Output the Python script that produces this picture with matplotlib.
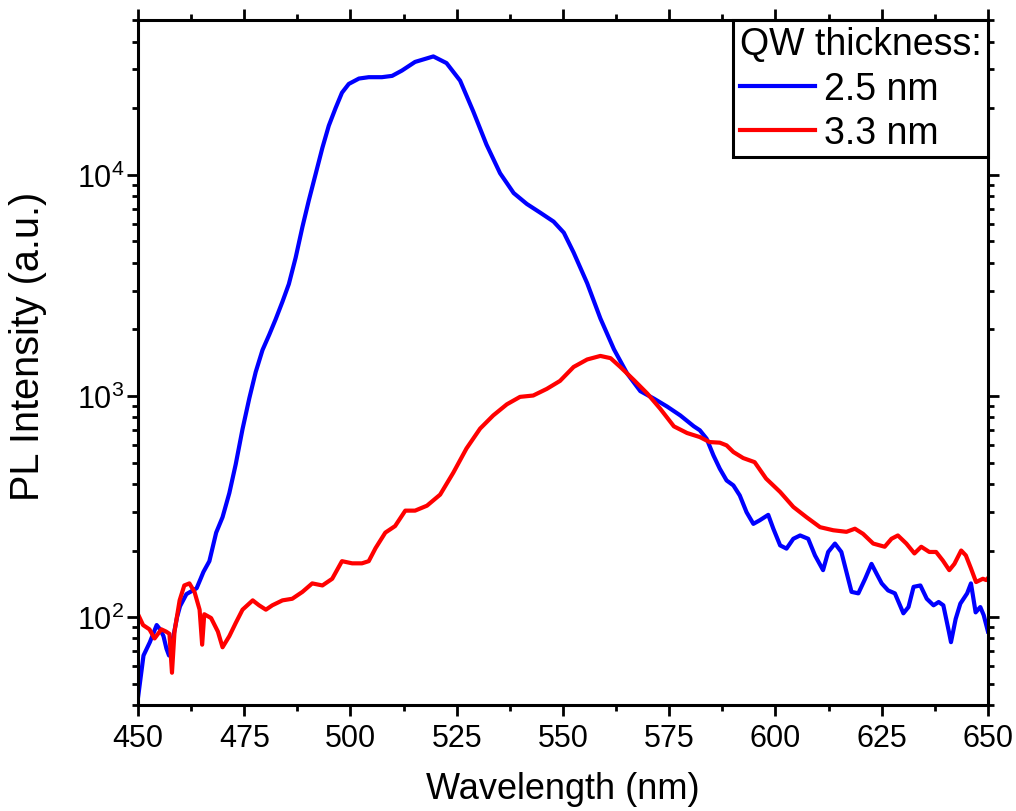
import matplotlib
matplotlib.use("Agg")
import matplotlib.pyplot as plt
from matplotlib.ticker import LogLocator, MultipleLocator, NullFormatter

plt.rcParams['font.family'] = ['Liberation Sans', 'DejaVu Sans']
plt.rcParams['mathtext.fontset'] = 'custom'
plt.rcParams['mathtext.rm'] = 'Liberation Sans'
plt.rcParams['mathtext.it'] = 'Liberation Sans:italic'

# ---- data ----
wl_25 = [450, 451.3, 452.8, 454.4, 455.2, 456, 456.7, 457.3, 458.5, 459.2, 459.9,
         461.4, 463.8, 464.8, 465.4, 466.8, 468.4, 469.9, 471.5, 473, 474.6, 476.2,
         477.7, 479.3, 480.9, 482.4, 484, 485.5, 487.1, 488.7, 490.2, 491.8, 493.4,
         494.9, 496.5, 498, 499.6, 502, 504.3, 507.4, 509.8, 512.1, 515.2, 517.6,
         519.5, 522.6, 525.8, 528.9, 532, 535.2, 538.4, 541.5, 544.7, 547.8, 550.2,
         552.5, 555.7, 558.8, 562, 565.1, 568.2, 571.4, 574.5, 577.6, 580.8, 582.2,
         583.8, 585.4, 586.9, 588.5, 590.1, 591.6, 593.2, 594.8, 596.3, 598.3, 599.5,
         601.1, 602.6, 604.2, 605.8, 607.7, 609.3, 611.2, 612.4, 614, 615.5, 616.7,
         617.9, 619.5, 621.1, 622.6, 623.8, 625, 626.5, 628.1, 629.3, 630.1, 631.3,
         632.5, 634.1, 635.6, 637.2, 638.4, 639.5, 640.8, 641.3, 642.4, 643.5, 645.1,
         646, 647.1, 648.2, 649, 650]
int_25 = [43, 67, 77, 92, 88, 82, 72, 67, 85, 100, 112,
          127, 135, 150, 160, 179, 241, 283, 364, 491, 708, 977,
          1283, 1614, 1896, 2225, 2672, 3209, 4224, 5825, 7670, 10090, 13280,
          16700, 20070, 23550, 25800, 27290, 27680, 27680, 28060, 29650, 32450, 33500,
          34360, 32060, 26700, 19360, 13720, 10180, 8280, 7390, 6740, 6150, 5480,
          4460, 3236, 2244, 1626, 1264, 1052, 973, 896, 817, 729, 700,
          641, 539, 469, 415, 394, 355, 298, 264, 274, 290, 251,
          211, 204, 226, 234, 226, 190, 163, 197, 215, 197, 160,
          130, 128, 149, 174, 157, 142, 132, 128, 113, 104, 111,
          137, 139, 121, 113, 117, 113, 86, 77, 98, 115, 128,
          142, 105, 111, 102, 86]

wl_33 = [450, 451.2, 452.7, 453.9, 455.5, 456.6, 457.4, 458, 458.6, 459.8, 460.9,
         462.1, 463.3, 464.5, 465.1, 465.6, 467.2, 468.8, 469.9, 471.5, 473, 474.6,
         477, 478.5, 480.1, 481.6, 484, 486.3, 488.7, 491, 493.4, 495.7, 498, 500.4,
         502.7, 504.3, 505.9, 508.2, 510.5, 512.9, 515.2, 518, 521.1, 524.2, 527.3,
         530.5, 533.6, 536.8, 539.9, 543, 546.2, 549.3, 552.5, 555.7, 558.8, 561.2,
         563.5, 566.7, 569.8, 572.9, 576.1, 579.2, 582.2, 584.5, 586.9, 588.5, 590.1,
         592.4, 595.1, 597.8, 601.1, 604.2, 607.3, 610.5, 613.6, 616.7, 618.7, 620.6,
         623, 625.7, 627.3, 628.8, 630.8, 632.7, 634.3, 636.2, 637.8, 639.4, 640.9,
         642.1, 643.7, 644.8, 646, 647.2, 648.8, 649.6, 650]
int_33 = [103, 92, 88, 80, 88, 86, 84, 56, 86, 119, 139,
          142, 130, 108, 75, 103, 99, 86, 73, 82, 94, 108,
          119, 113, 108, 113, 119, 121, 130, 142, 139, 149, 179, 175,
          175, 179, 205, 241, 258, 303, 303, 319, 358, 450, 579,
          712, 817, 917, 991, 1005, 1077, 1170, 1353, 1463, 1518, 1483,
          1353, 1180, 1028, 875, 729, 680, 652, 619, 615, 598, 558,
          524, 502, 423, 368, 315, 283, 255, 247, 243, 251, 238,
          215, 208, 226, 234, 215, 194, 208, 197, 197, 180, 163,
          174, 200, 190, 166, 144, 149, 147, 150]

labels = ['2.5 nm', '3.3 nm']
colors = ['#0000FF', '#FF0000']
legend_title = 'QW thickness:'
x_ticks = [450, 475, 500, 525, 550, 575, 600, 625, 650]

# ---- figure ----
fig = plt.figure(figsize=(10.16, 8.12), dpi=100)
ax = fig.add_axes([0.1358, 0.1305, 0.9724 - 0.1358, 0.9741 - 0.1305])

ax.plot(wl_25, int_25, color=colors[0], lw=3.0, label=labels[0])
ax.plot(wl_33, int_33, color=colors[1], lw=3.0, label=labels[1])

ax.set_yscale('log')
ax.set_xlim(450, 650)
ax.set_ylim(40, 50200)

ax.set_xticks(x_ticks)
ax.xaxis.set_minor_locator(MultipleLocator(12.5))
ax.yaxis.set_major_locator(LogLocator(base=10, numticks=10))
ax.yaxis.set_minor_locator(LogLocator(base=10, subs=range(2, 10), numticks=20))
ax.yaxis.set_minor_formatter(NullFormatter())

for s in ax.spines.values():
    s.set_linewidth(2.2)

ax.tick_params(which='both', direction='out', top=True, right=True, width=2.0,
               labelsize=22)
ax.tick_params(axis='x', which='both', pad=5)
ax.tick_params(axis='y', which='both', pad=2)
ax.tick_params(which='major', length=8)
ax.tick_params(which='minor', length=4.5)

ax.set_xlabel('Wavelength (nm)', fontsize=26, labelpad=13)
ax.set_ylabel('PL Intensity (a.u.)', fontsize=28.5)
ax.yaxis.set_label_coords(-0.107, 0.5255)

leg = ax.legend(title=legend_title, loc='upper right', borderaxespad=0,
                fontsize=27, title_fontsize=27, alignment='left',
                fancybox=False, edgecolor='black', framealpha=1,
                handlelength=2.0, handletextpad=0.25, borderpad=0.17,
                labelspacing=0.22)
leg.get_frame().set_linewidth(2.2)

fig.savefig('out.png', dpi=100)
